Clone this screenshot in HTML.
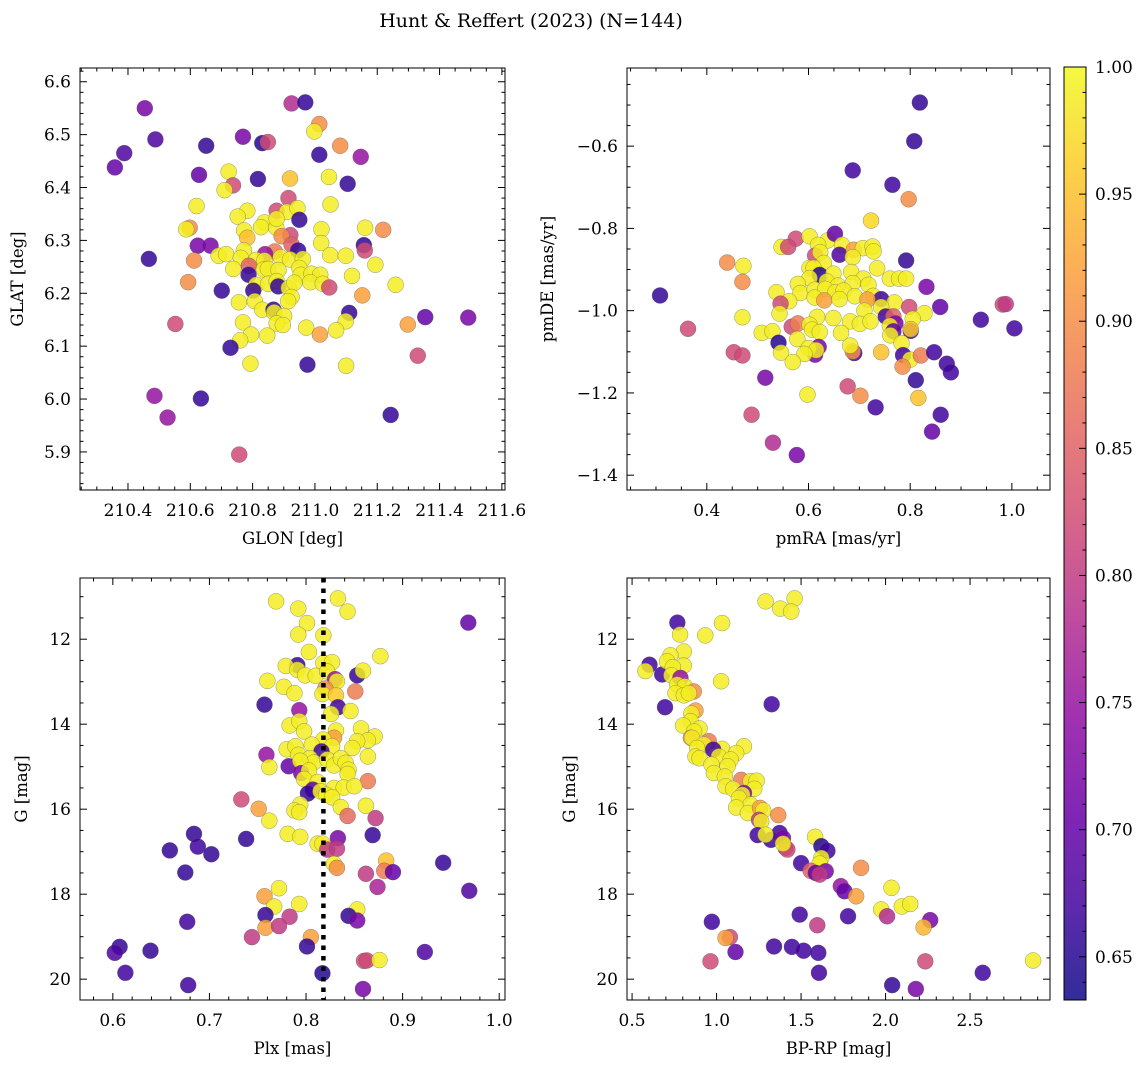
<!DOCTYPE html>
<html><head><meta charset="utf-8"><style>
html,body{margin:0;padding:0;background:#fff;}
svg{display:block;font-family:"DejaVu Serif","Liberation Serif",serif;}
</style></head><body>
<svg id="fig" width="1148" height="1067" viewBox="0 0 1148 1067" xmlns="http://www.w3.org/2000/svg">
<rect width="1148" height="1067" fill="#fff"/>
<text x="531" y="27" font-size="19" text-anchor="middle">Hunt &amp; Reffert (2023) (N=144)</text>
</svg>
<script>
// ---- Panel 1: GLON / GLAT ----
const glon=[210.454,210.925,210.969,211.014,210.998,210.488,210.388,210.358,210.651,210.769,210.831,210.849,211.081,211.014,211.147,210.628,210.723,210.817,210.920,211.045,211.105,210.737,210.710,210.915,210.620,211.050,210.783,210.752,210.877,210.910,210.944,210.950,210.838,210.827,210.876,210.877,210.598,210.587,210.773,210.783,210.921,210.893,211.021,211.161,211.219,211.020,211.157,211.160,210.624,210.665,210.925,210.946,210.871,210.840,210.467,210.691,210.715,210.772,210.762,210.811,210.838,210.890,210.920,210.961,211.049,211.099,211.194,210.612,210.738,210.788,210.836,210.849,210.883,210.950,210.787,210.954,210.989,211.017,211.119,210.593,210.812,210.850,210.877,210.882,210.916,210.934,210.985,211.025,211.046,211.259,210.701,210.802,210.925,210.914,210.756,210.807,211.152,210.831,210.867,210.869,210.901,211.110,211.099,210.769,210.877,210.897,210.972,211.068,211.016,211.298,211.354,211.492,210.552,210.795,210.847,210.760,210.729,210.793,210.976,211.100,211.330,210.485,210.634,210.527,211.243,210.757];
const glat=[6.550,6.559,6.561,6.520,6.506,6.491,6.465,6.438,6.479,6.496,6.484,6.486,6.479,6.462,6.458,6.424,6.430,6.416,6.417,6.420,6.407,6.404,6.395,6.380,6.365,6.368,6.356,6.345,6.356,6.354,6.361,6.339,6.334,6.325,6.324,6.341,6.324,6.321,6.319,6.305,6.310,6.308,6.321,6.324,6.320,6.295,6.291,6.281,6.290,6.290,6.292,6.281,6.279,6.274,6.265,6.271,6.274,6.281,6.267,6.263,6.262,6.268,6.264,6.265,6.272,6.271,6.254,6.262,6.246,6.252,6.245,6.246,6.244,6.248,6.235,6.235,6.237,6.235,6.233,6.221,6.216,6.218,6.223,6.213,6.210,6.220,6.221,6.218,6.211,6.216,6.205,6.205,6.193,6.185,6.183,6.185,6.196,6.169,6.169,6.164,6.157,6.163,6.147,6.145,6.143,6.140,6.135,6.130,6.122,6.141,6.155,6.154,6.142,6.122,6.120,6.111,6.097,6.067,6.065,6.063,6.082,6.006,6.001,5.965,5.970,5.895];
const prob1=[0.72,0.78,0.66,0.9,0.99,0.68,0.68,0.70,0.66,0.72,0.65,0.82,0.9,0.66,0.75,0.70,0.99,0.66,0.95,0.99,0.66,0.82,0.99,0.82,0.99,0.99,0.99,0.99,0.82,0.99,0.99,0.66,0.99,0.99,0.99,0.99,0.9,0.99,0.99,0.95,0.82,0.9,0.99,0.99,0.9,0.99,0.66,0.82,0.72,0.72,0.85,0.66,0.88,0.75,0.66,0.99,0.99,0.99,0.99,0.99,0.99,0.99,0.99,0.99,0.99,0.99,0.99,0.9,0.99,0.85,0.99,0.99,0.99,0.99,0.66,0.99,0.99,0.99,0.99,0.9,0.99,0.99,0.99,0.66,0.99,0.99,0.99,0.99,0.82,0.99,0.66,0.66,0.99,0.99,0.99,0.99,0.92,0.99,0.66,0.99,0.99,0.66,0.99,0.99,0.99,0.99,0.99,0.99,0.92,0.92,0.70,0.72,0.82,0.99,0.99,0.99,0.66,0.99,0.66,0.99,0.82,0.75,0.66,0.75,0.66,0.82];

// ---- Panel 2: pmRA / pmDE ----
const pmra=[0.819,0.808,0.687,0.765,0.797,0.723,0.575,0.547,0.560,0.602,0.638,0.652,0.666,0.619,0.613,0.623,0.661,0.689,0.707,0.726,0.728,0.687,0.792,0.440,0.472,0.630,0.602,0.610,0.735,0.684,0.622,0.649,0.708,0.760,0.778,0.792,0.470,0.602,0.579,0.636,0.658,0.687,0.718,0.832,0.537,0.584,0.612,0.633,0.653,0.669,0.691,0.727,0.308,0.562,0.545,0.612,0.631,0.661,0.743,0.716,0.769,0.743,0.798,0.859,0.982,0.988,0.543,0.710,0.828,0.470,0.617,0.649,0.682,0.701,0.722,0.752,0.767,0.805,0.771,0.939,1.005,0.363,0.567,0.579,0.602,0.607,0.622,0.664,0.760,0.767,0.801,0.801,0.508,0.529,0.541,0.578,0.761,0.783,0.546,0.620,0.613,0.600,0.615,0.592,0.690,0.687,0.682,0.743,0.786,0.800,0.821,0.847,0.453,0.470,0.569,0.872,0.880,0.785,0.811,0.515,0.677,0.598,0.702,0.816,0.732,0.860,0.488,0.843,0.530,0.577];
const pmde=[-0.494,-0.588,-0.659,-0.694,-0.729,-0.781,-0.825,-0.845,-0.845,-0.819,-0.829,-0.813,-0.840,-0.840,-0.866,-0.858,-0.864,-0.852,-0.848,-0.844,-0.856,-0.870,-0.878,-0.883,-0.891,-0.884,-0.896,-0.896,-0.897,-0.906,-0.913,-0.910,-0.922,-0.922,-0.922,-0.922,-0.930,-0.921,-0.935,-0.929,-0.939,-0.933,-0.937,-0.942,-0.955,-0.957,-0.949,-0.947,-0.955,-0.951,-0.965,-0.964,-0.963,-0.977,-0.983,-0.968,-0.975,-0.972,-0.972,-0.973,-0.980,-0.991,-0.991,-0.991,-0.985,-0.984,-1.007,-1.000,-1.006,-1.016,-1.015,-1.018,-1.026,-1.032,-1.026,-1.014,-1.014,-1.020,-1.031,-1.022,-1.043,-1.044,-1.039,-1.031,-1.034,-1.046,-1.052,-1.054,-1.037,-1.050,-1.049,-1.045,-1.054,-1.050,-1.078,-1.069,-1.060,-1.079,-1.102,-1.088,-1.107,-1.091,-1.096,-1.105,-1.103,-1.099,-1.085,-1.101,-1.108,-1.119,-1.109,-1.101,-1.101,-1.109,-1.125,-1.129,-1.150,-1.136,-1.169,-1.163,-1.184,-1.204,-1.207,-1.212,-1.235,-1.253,-1.253,-1.294,-1.321,-1.351];
const prob2=[0.66,0.66,0.67,0.67,0.9,0.97,0.82,0.99,0.82,0.99,0.99,0.70,0.99,0.99,0.82,0.99,0.68,0.92,0.99,0.99,0.99,0.99,0.66,0.9,0.99,0.99,0.99,0.99,0.99,0.99,0.65,0.99,0.99,0.99,0.99,0.99,0.9,0.99,0.99,0.99,0.99,0.99,0.99,0.72,0.99,0.99,0.99,0.99,0.99,0.99,0.99,0.99,0.66,0.99,0.82,0.99,0.92,0.99,0.67,0.92,0.99,0.99,0.82,0.70,0.82,0.80,0.99,0.99,0.99,0.99,0.99,0.99,0.99,0.99,0.99,0.67,0.85,0.99,0.72,0.67,0.67,0.82,0.82,0.88,0.99,0.99,0.99,0.99,0.99,0.70,0.67,0.96,0.99,0.99,0.65,0.99,0.99,0.99,0.99,0.72,0.72,0.99,0.99,0.99,0.67,0.90,0.99,0.95,0.67,0.99,0.88,0.67,0.82,0.82,0.99,0.67,0.67,0.9,0.66,0.72,0.82,0.99,0.9,0.95,0.67,0.67,0.82,0.70,0.78,0.72];

// ---- Panel 3: Plx / G ----
const plx=[0.769,0.833,0.792,0.843,0.968,0.801,0.792,0.818,0.803,0.877,0.791,0.779,0.791,0.818,0.827,0.799,0.810,0.822,0.853,0.859,0.830,0.832,0.760,0.777,0.788,0.820,0.817,0.831,0.851,0.757,0.833,0.793,0.826,0.846,0.783,0.793,0.798,0.831,0.829,0.857,0.871,0.864,0.853,0.818,0.827,0.806,0.780,0.789,0.759,0.816,0.848,0.864,0.792,0.804,0.808,0.782,0.762,0.794,0.822,0.829,0.836,0.841,0.844,0.795,0.803,0.798,0.812,0.843,0.864,0.829,0.839,0.850,0.807,0.802,0.815,0.821,0.827,0.733,0.751,0.794,0.788,0.793,0.836,0.862,0.843,0.872,0.762,0.684,0.738,0.781,0.794,0.833,0.869,0.659,0.688,0.702,0.812,0.817,0.822,0.832,0.942,0.675,0.829,0.832,0.883,0.881,0.890,0.862,0.874,0.969,0.772,0.757,0.767,0.793,0.758,0.783,0.853,0.844,0.853,0.677,0.758,0.772,0.744,0.805,0.801,0.607,0.602,0.639,0.923,0.860,0.863,0.876,0.613,0.817,0.678,0.859];
const gmag3=[11.11,11.04,11.28,11.35,11.61,11.62,11.89,11.91,12.30,12.40,12.61,12.63,12.72,12.56,12.54,12.85,12.86,12.76,12.85,12.74,12.94,12.99,12.98,13.12,13.27,13.16,13.29,13.32,13.23,13.54,13.60,13.67,13.76,13.69,14.03,13.93,14.17,14.15,14.32,14.10,14.29,14.38,14.40,14.36,14.52,14.48,14.59,14.52,14.72,14.64,14.56,14.76,14.72,14.80,14.90,14.99,15.01,14.86,14.83,14.97,14.80,14.91,15.07,15.15,15.09,15.29,15.36,15.17,15.34,15.50,15.49,15.46,15.54,15.63,15.58,15.66,15.72,15.77,15.99,15.89,16.03,16.07,15.95,15.92,16.16,16.21,16.27,16.58,16.70,16.58,16.65,16.68,16.61,16.97,16.88,17.06,16.81,16.81,16.95,16.93,17.26,17.49,17.29,17.38,17.21,17.45,17.48,17.52,17.83,17.92,17.86,18.05,18.29,18.23,18.49,18.53,18.36,18.51,18.62,18.65,18.79,18.75,19.01,19.01,19.23,19.24,19.38,19.33,19.36,19.57,19.56,19.55,19.85,19.86,20.14,20.23];
const prob3=[0.99,0.99,0.99,0.99,0.70,0.99,0.99,0.99,0.99,0.99,0.66,0.99,0.99,0.99,0.99,0.99,0.99,0.99,0.66,0.99,0.75,0.99,0.99,0.99,0.99,0.9,0.99,0.96,0.88,0.66,0.67,0.75,0.99,0.99,0.99,0.99,0.99,0.99,0.92,0.99,0.99,0.99,0.99,0.99,0.99,0.99,0.99,0.99,0.75,0.67,0.99,0.99,0.99,0.99,0.99,0.70,0.99,0.99,0.99,0.99,0.99,0.99,0.99,0.72,0.99,0.99,0.99,0.99,0.88,0.99,0.99,0.99,0.70,0.66,0.99,0.99,0.99,0.82,0.92,0.99,0.99,0.99,0.99,0.99,0.86,0.80,0.99,0.66,0.66,0.99,0.99,0.72,0.66,0.66,0.67,0.66,0.99,0.99,0.80,0.80,0.66,0.66,0.99,0.9,0.95,0.88,0.70,0.80,0.77,0.68,0.99,0.92,0.99,0.99,0.66,0.80,0.99,0.66,0.72,0.67,0.92,0.80,0.80,0.92,0.66,0.66,0.68,0.66,0.68,0.82,0.82,0.99,0.67,0.65,0.67,0.72];

// ---- Panel 4: BP-RP / G ----
const bprp=[1.290,1.462,1.377,1.442,0.768,1.033,0.784,0.933,0.806,0.727,0.603,0.579,0.806,0.678,0.707,0.741,0.733,0.786,1.027,0.767,0.812,0.865,0.757,0.806,0.836,0.695,1.326,0.875,0.851,0.846,0.802,0.899,0.867,0.848,0.855,0.954,0.925,0.885,1.162,1.033,1.116,0.980,0.875,0.899,1.014,1.083,0.970,1.065,0.984,1.049,1.146,1.201,1.237,1.223,1.053,1.098,1.162,1.152,1.132,1.201,1.116,1.185,1.257,1.276,1.365,1.251,1.264,1.243,1.373,1.322,1.290,1.393,1.409,1.419,1.393,1.583,1.620,1.656,1.620,1.610,1.500,1.557,1.587,1.646,1.610,1.855,1.735,1.757,1.826,2.035,1.974,2.096,2.146,1.492,1.778,2.009,2.264,2.225,1.596,0.972,1.079,1.053,1.112,1.340,1.446,1.515,1.602,0.964,2.235,2.873,1.606,2.575,2.039,2.179];
const gmag4=[11.11,11.04,11.28,11.35,11.61,11.62,11.89,11.91,12.29,12.38,12.60,12.75,12.62,12.83,12.52,12.66,12.85,12.91,12.99,13.07,13.11,13.23,13.27,13.32,13.27,13.60,13.53,13.68,13.75,13.93,14.03,14.10,14.17,14.32,14.32,14.40,14.48,14.56,14.52,14.58,14.68,14.60,14.76,14.80,14.76,14.83,14.95,14.99,15.15,15.23,15.31,15.34,15.33,15.52,15.46,15.52,15.62,15.66,15.74,15.89,15.96,16.09,15.97,16.03,16.14,16.25,16.29,16.61,16.56,16.72,16.60,16.68,16.91,16.95,16.81,16.65,16.87,16.98,17.15,17.28,17.27,17.45,17.50,17.46,17.54,17.38,17.81,17.93,18.05,17.85,18.36,18.29,18.23,18.48,18.52,18.52,18.61,18.78,18.73,18.65,19.01,19.03,19.36,19.23,19.24,19.33,19.38,19.58,19.58,19.56,19.85,19.85,20.14,20.23];
const prob4=[0.99,0.99,0.99,0.99,0.67,0.99,0.99,0.99,0.99,0.99,0.67,0.99,0.99,0.67,0.99,0.99,0.99,0.75,0.99,0.99,0.99,0.9,0.99,0.99,0.99,0.67,0.67,0.92,0.99,0.99,0.99,0.99,0.99,0.9,0.99,0.88,0.99,0.99,0.99,0.99,0.99,0.67,0.99,0.99,0.99,0.99,0.99,0.99,0.99,0.99,0.88,0.99,0.99,0.99,0.99,0.99,0.72,0.99,0.99,0.99,0.99,0.99,0.92,0.99,0.9,0.80,0.99,0.67,0.67,0.67,0.99,0.72,0.80,0.82,0.99,0.99,0.65,0.67,0.99,0.99,0.67,0.85,0.70,0.72,0.80,0.9,0.75,0.70,0.92,0.99,0.99,0.99,0.99,0.67,0.67,0.78,0.72,0.94,0.80,0.67,0.82,0.92,0.70,0.67,0.67,0.67,0.67,0.82,0.82,0.99,0.67,0.67,0.66,0.72];

const xTicks1=["210.4","210.6","210.8","211.0","211.2","211.4","211.6"];
const yTicks1=["5.9","6.0","6.1","6.2","6.3","6.4","6.5","6.6"];
const xTicks2=["0.4","0.6","0.8","1.0"];
const yTicks2=["-1.4","-1.2","-1.0","-0.8","-0.6"];
const xTicks3=["0.6","0.7","0.8","0.9","1.0"];
const yTicksG=["12","14","16","18","20"];
const xTicks4=["0.5","1.0","1.5","2.0","2.5"];
const cbTicks=["0.65","0.70","0.75","0.80","0.85","0.90","0.95","1.00"];
const plxRef=[0.818];

const NS="http://www.w3.org/2000/svg";
const svg=document.getElementById('fig');
function mk(tag,attrs,parent){const e=document.createElementNS(NS,tag);for(const k in attrs)e.setAttribute(k,attrs[k]);(parent||svg).appendChild(e);return e;}
const VMIN=0.633,VMAX=1.0;
const PL=[[13,8,135],[65,4,157],[106,0,168],[143,13,164],[177,42,144],[204,71,120],[225,100,98],[242,132,75],[252,166,54],[252,206,37],[240,249,33]];
function plasma(t){t=Math.max(0,Math.min(1,t));const f=t*10,i=Math.min(9,Math.floor(f)),r=f-i;const a=PL[i],b=PL[i+1];return 'rgb('+a.map((v,k)=>Math.round(v+(b[k]-v)*r)).join(',')+')';}
function colorOf(p){return plasma((p-VMIN)/(VMAX-VMIN));}
const TFS=17, LFS=16.5;

function panel(cfg){
  const {x0,x1,y0,y1,xd,yd,inv}=cfg;
  const sx=v=>x0+(v-xd[0])/(xd[1]-xd[0])*(x1-x0);
  const sy=inv?(v=>y0+(v-yd[0])/(yd[1]-yd[0])*(y1-y0)):(v=>y1-(v-yd[0])/(yd[1]-yd[0])*(y1-y0));
  const g=mk('g',{});
  
  
  const cid='clip-'+cfg.name;
  const cp=mk('clipPath',{id:cid},g);mk('rect',{x:x0,y:y0,width:x1-x0,height:y1-y0},cp);
  const pts=mk('g',{'clip-path':'url(#'+cid+')'},g);
  
  
  for(let i=0;i<cfg.xs.length;i++){
    const c=mk('circle',{cx:sx(cfg.xs[i]),cy:sy(cfg.ys[i]),r:8,fill:colorOf(cfg.ps[i]),'fill-opacity':0.85,stroke:'#555','stroke-opacity':0.6,'stroke-width':0.5},pts);
    
    
  }
  if(cfg.vline){cfg.vline.forEach(v=>{const l=mk('line',{x1:sx(v),x2:sx(v),y1:y0,y2:y1,stroke:'#000','stroke-width':4.5,'stroke-dasharray':'4.5 6'},pts);
    
    });}
  const fr=mk('rect',{x:x0,y:y0,width:x1-x0,height:y1-y0,fill:'none',stroke:'#000','stroke-width':1},g);
  
  
  const tk=mk('g',{stroke:'#000','stroke-width':1},g);
  const xmaj=cfg.xt.map(Number);
  const xstep=xmaj[1]-xmaj[0];
  for(let v=xmaj[0]-xstep*3;v<=xd[1]+1e-9;v+=xstep/cfg.xm){if(v<xd[0]-1e-9)continue;
    const isMaj=xmaj.some(m=>Math.abs(m-v)<1e-6);const L=isMaj?7:3.5;const X=sx(v);
    mk('line',{x1:X,x2:X,y1:y1,y2:y1-L},tk);mk('line',{x1:X,x2:X,y1:y0,y2:y0+L},tk);}
  const ymaj=cfg.yt.map(Number);
  const ystep=ymaj[1]-ymaj[0];
  const ylo=Math.min(yd[0],yd[1]),yhi=Math.max(yd[0],yd[1]);
  for(let v=ymaj[0]-ystep*3;v<=yhi+1e-9;v+=ystep/cfg.ym){if(v<ylo-1e-9)continue;
    const isMaj=ymaj.some(m=>Math.abs(m-v)<1e-6);const L=isMaj?7:3.5;const Y=sy(v);
    mk('line',{x1:x0,x2:x0+L,y1:Y,y2:Y},tk);mk('line',{x1:x1,x2:x1-L,y1:Y,y2:Y},tk);}
  cfg.xt.forEach(s=>{const v=Number(s);if(v<xd[0]-1e-9||v>xd[1]+1e-9)return;
    const t=mk('text',{x:sx(v),y:y1+26,'font-size':TFS,'text-anchor':'middle'},g);t.textContent=s.replace('-','\u2212');
    
    });
  cfg.yt.forEach(s=>{const v=Number(s);
    const t=mk('text',{x:x0-9,y:sy(v)+6,'font-size':TFS,'text-anchor':'end'},g);t.textContent=s.replace('-','\u2212');
    
    });
  const xl=mk('text',{x:(x0+x1)/2,y:y1+54,'font-size':LFS,'text-anchor':'middle'},g);xl.textContent=cfg.xl;
  
  
  const yl=mk('text',{x:cfg.ylx,y:(y0+y1)/2,'font-size':LFS,'text-anchor':'middle',transform:'rotate(-90 '+cfg.ylx+' '+((y0+y1)/2)+')'},g);yl.textContent=cfg.yl;
  
  
}

panel({name:'glon-glat-panel',x0:80,x1:505,y0:68,y1:490,xd:[210.246,211.61],yd:[5.828,6.626],xs:glon,ys:glat,ps:prob1,xt:xTicks1,yt:yTicks1,xm:4,ym:5,xl:'GLON [deg]',yl:'GLAT [deg]',ylx:23});
panel({name:'pm-panel',x0:627,x1:1050,y0:68,y1:490,xd:[0.243,1.075],yd:[-1.436,-0.41],xs:pmra,ys:pmde,ps:prob2,xt:xTicks2,yt:yTicks2,xm:4,ym:4,xl:'pmRA [mas/yr]',yl:'pmDE [mas/yr]',ylx:553});
panel({name:'plx-g-panel',x0:80,x1:505,y0:578,y1:1000,xd:[0.566,1.006],yd:[10.56,20.49],inv:true,xs:plx,ys:gmag3,ps:prob3,xt:xTicks3,yt:yTicksG,xm:5,ym:4,xl:'Plx [mas]',yl:'G [mag]',ylx:27,vline:plxRef});
panel({name:'cmd-panel',x0:627,x1:1050,y0:578,y1:1000,xd:[0.470,2.973],yd:[10.56,20.49],inv:true,xs:bprp,ys:gmag4,ps:prob4,xt:xTicks4,yt:yTicksG,xm:5,ym:4,xl:'BP-RP [mag]',yl:'G [mag]',ylx:575});

// colorbar
(function(){
  const cx0=1064,cx1=1086,cy0=67,cy1=1000;
  const defs=mk('defs',{});
  const lg=mk('linearGradient',{id:'cbg',x1:0,y1:1,x2:0,y2:0},defs);
  for(let i=0;i<=20;i++){mk('stop',{offset:(i/20),'stop-color':plasma(i/20)},lg);}
  const g=mk('g',{});
  
  
  mk('rect',{x:cx0,y:cy0,width:cx1-cx0,height:cy1-cy0,fill:'url(#cbg)','fill-opacity':0.85},g);
  mk('rect',{x:cx0,y:cy0,width:cx1-cx0,height:cy1-cy0,fill:'none',stroke:'#000','stroke-width':1},g);
  const sy=v=>cy1-(v-VMIN)/(VMAX-VMIN)*(cy1-cy0);
  for(let k=64;k<=100;k++){const v=k/100;const maj=(k%5===0);const Y=sy(v);
    mk('line',{x1:cx1,x2:cx1-(maj?7:3.5),y1:Y,y2:Y,stroke:'#000','stroke-width':1},g);}
  cbTicks.forEach(s=>{const t=mk('text',{x:cx1+9,y:sy(Number(s))+6,'font-size':TFS},g);t.textContent=s;
    
    });
})();
</script>
</body></html>
